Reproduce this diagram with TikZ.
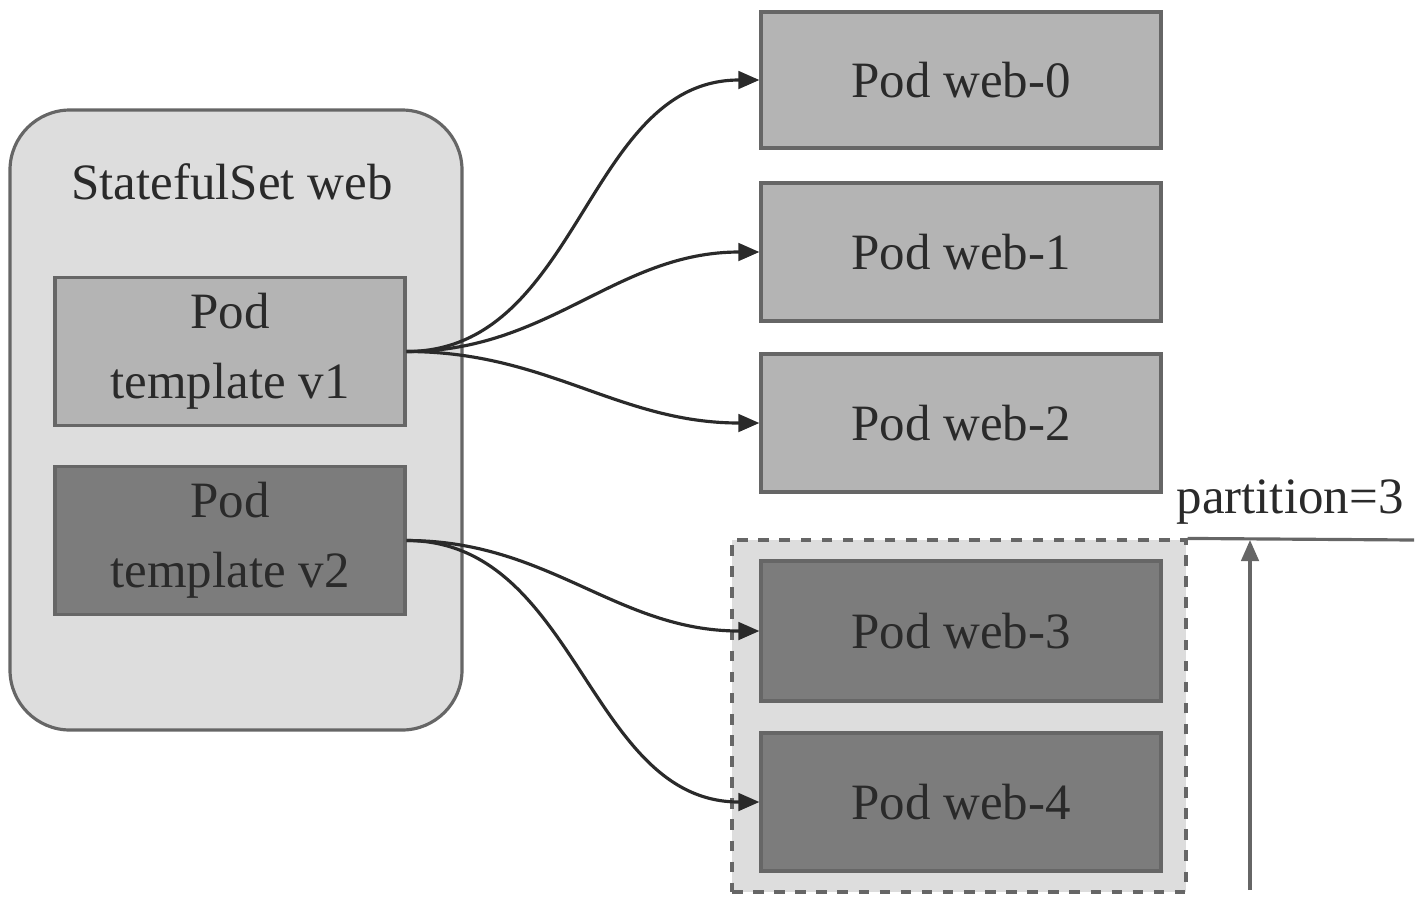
\documentclass[tikz,border=0pt]{standalone}
\usepackage{fontspec}
\setmainfont{Liberation Serif}
\usepackage{tikz}
\usetikzlibrary{shapes, arrows.meta, positioning}
\usepackage{xcolor}
\definecolor{setgray}{HTML}{DDDDDD}
\definecolor{oldgray}{HTML}{B4B4B4}
\definecolor{newgray}{HTML}{7C7C7C}
\definecolor{edgegray}{HTML}{666666}
\definecolor{inkgray}{HTML}{2A2A2A}
\tikzset{
  podbox/.style={draw=edgegray, line width=0.9pt, minimum width=4cm, minimum height=1.38cm, text=inkgray},
  oldpod/.style={podbox, fill=oldgray},
  newpod/.style={podbox, fill=newgray},
  tplbox/.style={draw=edgegray, line width=0.9pt, minimum width=3.5cm, minimum height=1.48cm, align=center, text=inkgray},
  arr/.style={-{Triangle[length=6pt,width=5pt]}, draw=inkgray, line width=0.9pt}
}
\begin{document}
\begin{tikzpicture}[font=\fontsize{14.5}{20}\selectfont]
\useasboundingbox (0,0) rectangle (14.24,9.02);

\node[draw=edgegray, line width=0.9pt, fill=setgray, rounded corners=0.6cm, minimum width=4.52cm, minimum height=6.2cm] (set) at (2.36,4.82) {};
\node[text=inkgray] (title) at (2.32,7.20) {StatefulSet web};
\node[tplbox, fill=oldgray] (tplA) at (2.30,5.505) {Pod\\template v1};
\node[tplbox, fill=newgray] (tplB) at (2.30,3.615) {Pod\\template v2};

\node[oldpod, minimum height=1.36cm] (web0) at (9.61,8.22) {Pod web-0};
\node[oldpod] (web1) at (9.61,6.50) {Pod web-1};
\node[oldpod] (web2) at (9.61,4.79) {Pod web-2};

\node[draw=edgegray, dashed, line width=0.9pt, fill=setgray, minimum width=4.54cm, minimum height=3.52cm] (part) at (9.59,1.86) {};
\node[newpod, minimum height=1.40cm] (web3) at (9.61,2.71) {Pod web-3};
\node[newpod] (web4) at (9.61,1.00) {Pod web-4};

\draw[arr] (tplA.east) to[out=0, in=180] (web0.west);
\draw[arr] (tplA.east) to[out=0, in=180] (web1.west);
\draw[arr] (tplA.east) to[out=0, in=180] (web2.west);
\draw[arr] (tplB.east) to[out=0, in=180] (web3.west);
\draw[arr] (tplB.east) to[out=0, in=180] (web4.west);

\coordinate (lineEnd) at (14.14,3.62);
\coordinate (arrFoot) at (12.50,0.12);
\coordinate (arrTop) at (12.50,3.62);
\draw[edgegray, line width=0.9pt] (part.north east) -- (lineEnd);
\draw[arr, draw=edgegray] (arrFoot) -- (arrTop);
\node[text=inkgray] (partLabel) at (12.90,4.00) {partition=3};

\end{tikzpicture}
\end{document}
